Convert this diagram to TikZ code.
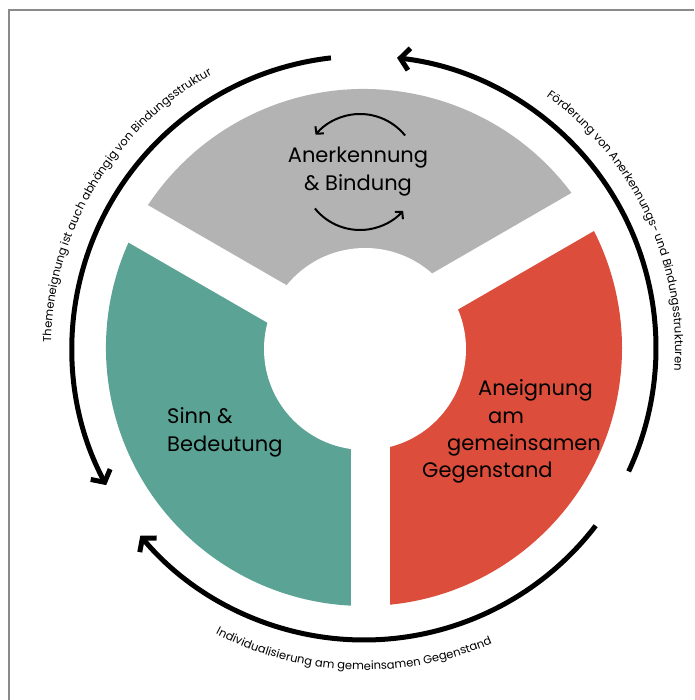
\documentclass[tikz,border=0pt]{standalone}
\usepackage{fontspec}
\setmainfont{Poppins}
\usetikzlibrary{arrows.meta,decorations.text}
\definecolor{sgray}{HTML}{B3B3B3}
\definecolor{sgreen}{HTML}{5BA395}
\definecolor{sred}{HTML}{DC4E3B}
\definecolor{framegray}{HTML}{8A8A8A}
\begin{document}
\begin{tikzpicture}[x=1pt,y=1pt,
  bigarc/.style={line width=5pt,-{Straight Barb[length=9pt,width=22pt]}},
  smallarc/.style={line width=2pt,-{Straight Barb[length=5pt,width=11pt]}},
  maintext/.style={font=\fontsize{21}{28}\selectfont, inner sep=0pt},
  gapband/.style={white, line width=#1},
  curvetext/.style={decorate, decoration={text along path, text align=center, text={#1}}}
]
\useasboundingbox (-364,-352) rectangle (330,348);
\fill[white] (-364,-352) rectangle (330,348);
\draw[framegray, line width=2pt] (-355,-352) -- (-355,338) -- (330,338);

% sectors
\fill[sgray] (0,0) -- (30:259) arc[start angle=30,end angle=150,radius=259] -- cycle;
\fill[sred] (0,0) -- (-90:258) arc[start angle=-90,end angle=30,radius=258] -- cycle;
\fill[sgreen] (0,0) -- (150:258) arc[start angle=150,end angle=270,radius=258] -- cycle;
\draw[gapband=39pt] (6.5,0) -- (6.5,-275);
\draw[gapband=42pt] (0,-6.2) -- (-242,133.5);
\draw[gapband=44pt] (0,9.7) -- (242,149.5);
\fill[white] (1,-1) circle[radius=101];

% big cycle arrows
\draw[bigarc] (-25:292) arc[start angle=-25,end angle=83.5,radius=292];
\draw[bigarc] (96.5:292) arc[start angle=96.5,end angle=208,radius=292];
\draw[bigarc] (-37.5:292) arc[start angle=-37.5,end angle=-140,radius=292];

% small arrows
\begin{scope}[shift={(-4,176)}]
\draw[smallarc] (39:58) arc[start angle=39,end angle=140,radius=58];
\draw[smallarc] (219:58) arc[start angle=219,end angle=318,radius=58];
\end{scope}

% main labels
\node[maintext, align=center] (anb) at (-6,176) {Anerkennung\\\& Bindung};
\node[maintext, align=left, anchor=west] (sinn) at (-197,-84) {Sinn \&\\Bedeutung};
\node[maintext, anchor=west] (an1) at (114,-42) {Aneignung};
\node[maintext, anchor=west] (an2) at (124,-70) {am};
\node[maintext, anchor=west] (an3) at (83,-97) {gemeinsamen};
\node[maintext, anchor=west] (an4) at (58,-125) {Gegenstand};

% curved texts
\path[curvetext={|\fontsize{11.5}{13}\selectfont|Themeneignung ist auch abhängig von Bindungsstruktur}]
  (184:313) arc[start angle=184,end angle=114,radius=313];
\path[curvetext={|\fontsize{11.5}{13}\selectfont|Förderung von Anerkennungs- und Bindungsstrukturen}]
  (60:311) arc[start angle=60,end angle=-10,radius=311];
\path[curvetext={|\fontsize{11.5}{13}\selectfont|Individualisierung am gemeinsamen Gegenstand}]
  (233:322) arc[start angle=233,end angle=303,radius=322];
\end{tikzpicture}
\end{document}
